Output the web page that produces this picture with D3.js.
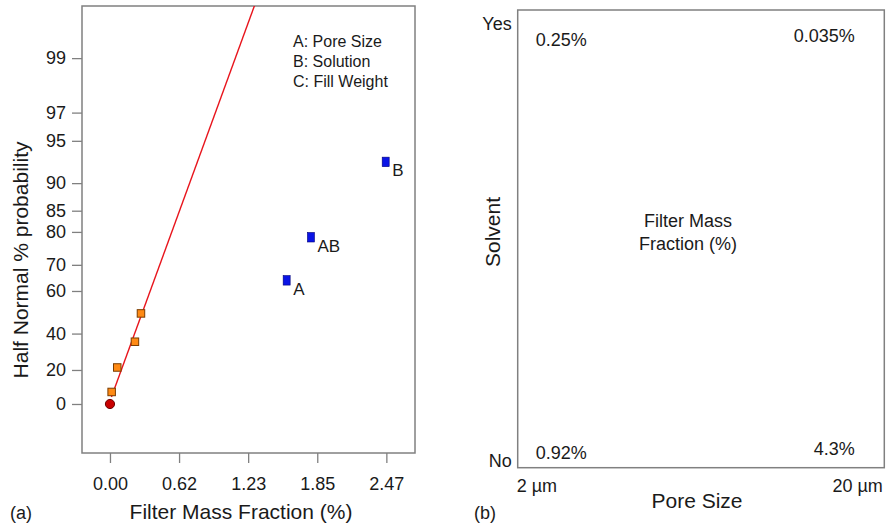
<!DOCTYPE html>
<html><head><meta charset="utf-8">
<script src="https://cdn.jsdelivr.net/npm/d3@7"></script>
<style>
body{margin:0;background:#fff}
svg{display:block}
text{font-family:"Liberation Sans",Arial,Helvetica,sans-serif;fill:#1a1a1a}
</style>
</head><body>
<svg id="c" width="886" height="530"></svg>
<script>
// ---------- data ----------
const xTickValues = [0, 0.6175, 1.235, 1.8525, 2.47];
const xTickLabels = ["0.00", "0.62", "1.23", "1.85", "2.47"];
const probTicks = [0, 20, 40, 60, 70, 80, 85, 90, 95, 97, 99];
const errorX = [0.015, 0.065, 0.223, 0.277];
const errorP = [7.14, 21.43, 35.71, 50.0];
const effectNames = ["A", "AB", "B"];
const effectX = [1.579, 1.796, 2.464];
const effectP = [64.29, 78.57, 92.86];
const originX = [0];
const originP = [0];
const fitX = [0.013, 1.35];
const fitSlope = 2.28;      // half-normal z per % fraction
const fitIntercept = 0.022;
const legendLines = ["A: Pore Size", "B: Solution", "C: Fill Weight"];
const poreSizes = ["2 µm", "20 µm"];
const solvents = ["No", "Yes"];
const fractionNo = [0.92, 4.3];
const fractionYes = [0.25, 0.035];

// ---------- helpers ----------
function invNorm(p){
  const a=[-3.969683028665376e+01,2.209460984245205e+02,-2.759285104469687e+02,1.383577518672690e+02,-3.066479806614716e+01,2.506628277459239e+00];
  const b=[-5.447609879822406e+01,1.615858368580409e+02,-1.556989798598866e+02,6.680131188771972e+01,-1.328068155288572e+01];
  const c=[-7.784894002430293e-03,-3.223964580411365e-01,-2.400758277161838e+00,-2.549732539343734e+00,4.374664141464968e+00,2.938163982698783e+00];
  const d=[7.784695709041462e-03,3.224671290700398e-01,2.445134137142996e+00,3.754408661907416e+00];
  const pl=0.02425, ph=1-pl; let q,r;
  if(p<pl){q=Math.sqrt(-2*Math.log(p));return (((((c[0]*q+c[1])*q+c[2])*q+c[3])*q+c[4])*q+c[5])/((((d[0]*q+d[1])*q+d[2])*q+d[3])*q+1);}
  if(p<=ph){q=p-0.5;r=q*q;return (((((a[0]*r+a[1])*r+a[2])*r+a[3])*r+a[4])*r+a[5])*q/(((((b[0]*r+b[1])*r+b[2])*r+b[3])*r+b[4])*r+1);}
  q=Math.sqrt(-2*Math.log(1-p));return -(((((c[0]*q+c[1])*q+c[2])*q+c[3])*q+c[4])*q+c[5])/((((d[0]*q+d[1])*q+d[2])*q+d[3])*q+1);
}
const hn = p => invNorm(0.5 + p / 200);

const svg = d3.select("#c");
const FONT = '"Liberation Sans",Arial,Helvetica,sans-serif';
const GRAY = "#808080";

// ---------- panel (a) ----------
const L = {left: 82, right: 415, top: 6, bottom: 453};
const x = d3.scaleLinear().domain([-0.25, 2.726]).range([L.left, L.right]);
const yz = d3.scaleLinear().domain([-0.365, 2.964]).range([L.bottom, L.top]);
const yP = p => yz(hn(p));

const gA = svg.append("g");

// clip
svg.append("defs").append("clipPath").attr("id","clipA")
  .append("rect").attr("x",L.left).attr("y",L.top).attr("width",L.right-L.left).attr("height",L.bottom-L.top);

// axes
const yAxis = d3.axisLeft(yz).tickValues(probTicks.map(hn))
  .tickFormat((d,i)=>probTicks[i]).tickSize(10).tickPadding(6);
const gy = gA.append("g").attr("transform",`translate(${L.left},0)`).call(yAxis);
const xAxis = d3.axisBottom(x).tickValues(xTickValues)
  .tickFormat((d,i)=>xTickLabels[i]).tickSize(10).tickPadding(14);
const gx = gA.append("g").attr("transform",`translate(0,${L.bottom})`).call(xAxis);
[gx, gy].forEach(g=>{
  g.attr("font-family",FONT).attr("font-size",18).attr("color",GRAY);
  g.select(".domain").remove();
  g.selectAll(".tick line").attr("stroke",GRAY).attr("stroke-width",1.3);
  g.selectAll(".tick text").style("fill","#1a1a1a");
});

// frame
gA.append("rect").attr("x",L.left).attr("y",L.top)
  .attr("width",L.right-L.left).attr("height",L.bottom-L.top)
  .attr("fill","none").attr("stroke",GRAY).attr("stroke-width",1.5);

// fit line
gA.append("line").attr("clip-path","url(#clipA)")
  .attr("x1",x(fitX[0])).attr("y1",yz(fitIntercept+fitSlope*fitX[0]))
  .attr("x2",x(fitX[1])).attr("y2",yz(fitIntercept+fitSlope*fitX[1]))
  .attr("stroke","#e8141c").attr("stroke-width",1.4);

// origin point
gA.selectAll(".orig").data(originX).enter().append("circle")
  .attr("cx",(d)=>x(d)).attr("cy",(d,i)=>yP(originP[i])).attr("r",4.6)
  .attr("fill","#c80000").attr("stroke","#6a0000").attr("stroke-width",1);

// error squares
const sq = 7.5;
gA.selectAll(".err").data(errorX).enter().append("rect")
  .attr("x",d=>x(d)-sq/2).attr("y",(d,i)=>yP(errorP[i])-sq/2)
  .attr("width",sq).attr("height",sq)
  .attr("fill","#ff8a14").attr("stroke","#7a3c00").attr("stroke-width",1);

// effect squares
const bw = 7, bh = 9.5;
gA.selectAll(".eff").data(effectX).enter().append("rect")
  .attr("x",d=>x(d)-bw/2).attr("y",(d,i)=>yP(effectP[i])-bh/2)
  .attr("width",bw).attr("height",bh)
  .attr("fill","#0a14e6").attr("stroke","#00007a").attr("stroke-width",0.6);
gA.selectAll(".effl").data(effectX).enter().append("text")
  .attr("x",d=>x(d)+6.5).attr("y",(d,i)=>yP(effectP[i])+14.5)
  .attr("font-size",17).text((d,i)=>effectNames[i]);

// legend
gA.selectAll(".leg").data(legendLines).enter().append("text")
  .attr("x",293).attr("y",(d,i)=>47+i*20).attr("font-size",16).text(d=>d);

// axis titles
gA.append("text").attr("x",241).attr("y",519).attr("text-anchor","middle")
  .attr("font-size",21).text("Filter Mass Fraction (%)");
gA.append("text").attr("transform","translate(28,260) rotate(-90)")
  .attr("text-anchor","middle").attr("font-size",21).text("Half Normal % probability");
gA.append("text").attr("x",10).attr("y",519).attr("font-size",18).text("(a)");

// ---------- panel (b) ----------
const R = {left: 517.7, right: 884.3, top: 10, bottom: 467.7};
const xb = d3.scalePoint().domain(poreSizes).range([R.left, R.right]);
const yb = d3.scalePoint().domain(solvents).range([R.bottom, R.top]);
const gB = svg.append("g");

gB.append("rect").attr("x",R.left).attr("y",R.top)
  .attr("width",R.right-R.left).attr("height",R.bottom-R.top)
  .attr("fill","none").attr("stroke",GRAY).attr("stroke-width",1.5);

// pore size labels
gB.selectAll(".pl").data(poreSizes).enter().append("text")
  .attr("x",d=>xb(d)+(d===poreSizes[0]?-1:-1.5))
  .attr("y",491.7).attr("font-size",18)
  .attr("text-anchor",(d,i)=>i===0?"start":"end").text(d=>d);
// solvent labels
gB.selectAll(".sl").data(solvents).enter().append("text")
  .attr("x",R.left-6).attr("y",d=>d==="Yes"?yb(d)+20:yb(d)-0.5)
  .attr("font-size",18).attr("text-anchor","end").text(d=>d);

// cell values
const cells = [];
solvents.forEach((s,si)=>poreSizes.forEach((p,pi)=>{
  cells.push({s, p, pi, v: (si===0?fractionNo:fractionYes)[pi]});
}));
gB.selectAll(".cv").data(cells).enter().append("text")
  .attr("x",d=>d.pi===0?xb(d.p)+18:xb(d.p)-29.5)
  .attr("y",d=>{
    const base = yb(d.s);
    if(d.s==="Yes") return base + (d.pi===0?36:31.7);
    return base - (d.pi===0?8.4:12.7);
  })
  .attr("font-size",18).attr("text-anchor",d=>d.pi===0?"start":"end")
  .text(d=>d.v+"%");

// centre label
const cl = gB.append("text").attr("x",688).attr("y",226.7)
  .attr("text-anchor","middle").attr("font-size",18);
cl.append("tspan").attr("x",688).text("Filter Mass");
cl.append("tspan").attr("x",688).attr("dy",23.3).text("Fraction (%)");

// axis titles
gB.append("text").attr("x",697).attr("y",508).attr("text-anchor","middle")
  .attr("font-size",21).text("Pore Size");
gB.append("text").attr("transform","translate(500,232) rotate(-90)")
  .attr("text-anchor","middle").attr("font-size",21).text("Solvent");
gB.append("text").attr("x",474).attr("y",519).attr("font-size",18).text("(b)");
</script>
</body></html>
